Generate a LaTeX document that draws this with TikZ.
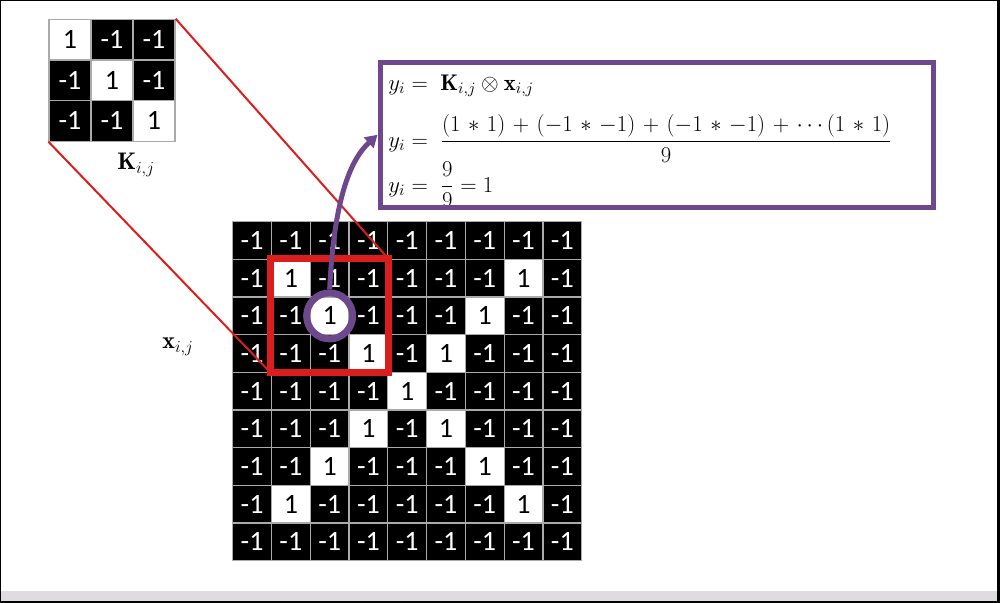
\RequirePackage{fix-cm}
\documentclass[tikz,border=0pt]{standalone}
\usepackage{amsmath}
\usepackage{fontspec}
\newfontfamily\gridfont{Carlito}
\usetikzlibrary{arrows.meta}
\definecolor{purp}{RGB}{110,72,140}
\definecolor{redc}{RGB}{218,30,30}
\definecolor{gridgray}{RGB}{170,170,170}
\definecolor{barg}{RGB}{222,220,222}
\begin{document}
\begin{tikzpicture}[x=0.75pt,y=-0.75pt,
  cellB/.style={draw=gridgray, line width=0.9pt, fill=black, text=white,
    minimum width=29.085pt, minimum height=28.25pt, inner sep=0pt,
    font=\gridfont\fontsize{21}{21}\selectfont},
  cellW/.style={cellB, fill=white, text=black},
  kB/.style={cellB, minimum width=31.5pt, minimum height=30.45pt},
  kW/.style={kB, fill=white, text=black},
  eqn/.style={anchor=base west, inner sep=0pt, font=\fontsize{17}{20}\selectfont},
  lab/.style={font=\fontsize{18}{21}\selectfont},
  redline/.style={redc, line width=1.5pt},
  purpline/.style={purp, line width=3.75pt}]
\useasboundingbox (0,0) rectangle (1000,603);
% frame
\fill[white] (0,0) rectangle (1000,603);
\fill[barg] (0,591) rectangle (1000,601);
\fill[black] (0,601) rectangle (1000,603);
\fill[black] (0,0) rectangle (1000,1.3);
\fill[black] (0,0) rectangle (1.3,603);
\fill[black] (997,0) rectangle (1000,603);
% big grid
\foreach \r in {0,...,8}{
  \foreach \c in {0,...,8}{
    \pgfmathtruncatemacro\d{and(abs(\r-4)==abs(\c-4), and(\r>0,\r<8))}
    \ifnum\d=1
      \node[cellW] (g-\r-\c) at ({232.7+(\c+0.5)*38.78},{221.7+(\r+0.5)*37.67}) {1};
    \else
      \node[cellB] (g-\r-\c) at ({232.7+(\c+0.5)*38.78},{221.7+(\r+0.5)*37.67}) {-1};
    \fi
  }
}
% kernel
\foreach \r in {0,1,2}{
  \foreach \c in {0,1,2}{
    \ifnum\r=\c
      \node[kW] (k-\r-\c) at ({49+(\c+0.5)*42},{19.3+(\r+0.5)*40.6}) {1};
    \else
      \node[kB] (k-\r-\c) at ({49+(\c+0.5)*42},{19.3+(\r+0.5)*40.6}) {-1};
    \fi
  }
}
\node[lab] (klab) at (136,165) {$\mathbf{K}_{i,j}$};
\node[lab] (xlab) at (178,347) {$\mathbf{x}_{i,j}$};
% red window
\draw[redc, line width=5.25pt] (g-1-1.north west) rectangle (g-3-3.south east);
% equation box
\node[eqn] (eq1) at (388,90) {$y_i = \;\mathbf{K}_{i,j}\otimes\mathbf{x}_{i,j}$};
\node[eqn] (eq2) at (388,147) {$\medmuskip=6mu y_i = \;\dfrac{(1*1)+(-1*-1)+(-1*-1)+\cdots(1*1)}{9}$};
\node[eqn] (eq3) at (388,192) {$y_i = \;\dfrac{9}{9} = 1$};
\node[draw=purp, line width=3.75pt, minimum width=415.1pt, minimum height=108.75pt, inner sep=0pt] (box) at (656.75,134.75) {};
% red projection lines
\draw[redline] (k-0-2.north east) -- (g-1-3.north east);
\draw[redline] (k-2-0.south west) -- (g-3-1.south west);
% purple circle and arrow
\node[circle, draw=purp, line width=5.25pt, minimum size=34.5pt, inner sep=0pt] (circ) at (g-2-2.center) {};
\draw[purpline, -{Triangle[length=9pt,width=10.5pt]}] (circ.north) .. controls (334,200) and (350,160) .. (box.west);
\end{tikzpicture}
\end{document}
